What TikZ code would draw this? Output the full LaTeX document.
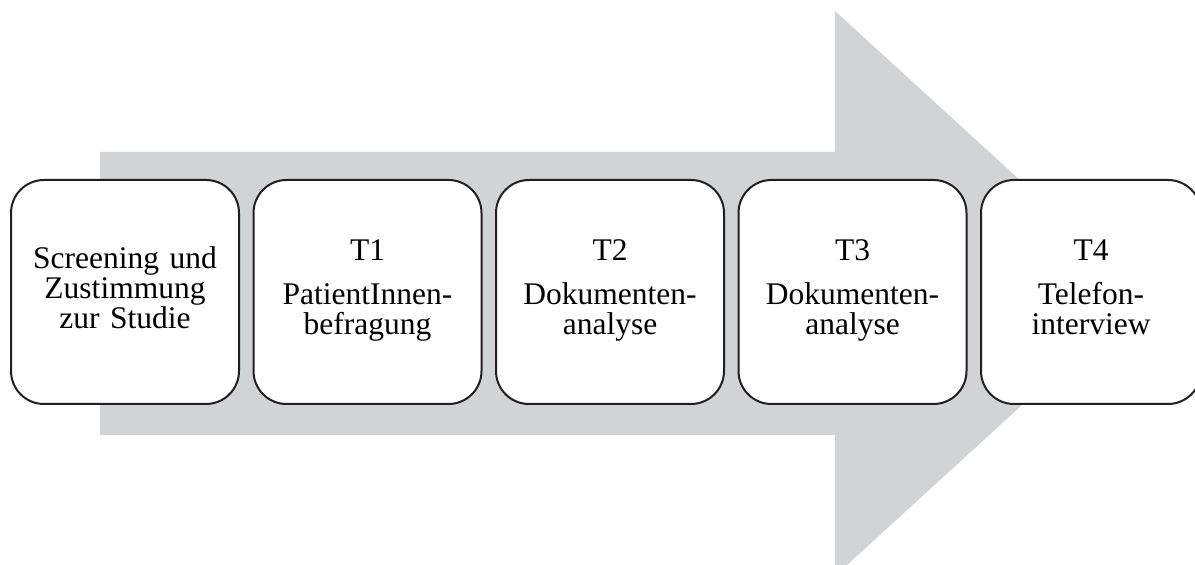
\documentclass[tikz,border=0pt]{standalone}
\usepackage{fontspec}
\setmainfont{Liberation Serif}
\usetikzlibrary{positioning}
\definecolor{flow}{HTML}{D1D3D4}
\definecolor{rim}{HTML}{231F20}

\begin{document}
\begin{tikzpicture}[x=1pt, y=1pt,
node distance=12.5pt,
stage/.style={draw=rim, line width=2pt, rounded corners=33pt, fill=white, minimum width=228pt, minimum height=224pt, text width=212pt, align=center, inner sep=0pt, font=\fontsize{31.5}{30}\selectfont, execute at end node=\strut},
]
\useasboundingbox (0,0) rectangle (1195,565);
% background arrow
\fill[flow] (100,130) -- (100,413) -- (835,413) -- (835,554) -- (1144,271.5) -- (835,-11) -- (835,130) -- cycle;
\node[stage, anchor=west] (s0) at (10,273) {Screening und\\Zustimmung\\zur Studie};
\node[stage, right=of s0] (s1) {T1\\[14pt]PatientInnen-\\befragung};
\node[stage, right=of s1] (s2) {T2\\[14pt]Dokumenten-\\analyse};
\node[stage, right=of s2] (s3) {T3\\[14pt]Dokumenten-\\analyse};
\node[stage, right=of s3, minimum width=220pt] (s4) {T4\\[14pt]Telefon-\\interview};
\end{tikzpicture}
\end{document}
